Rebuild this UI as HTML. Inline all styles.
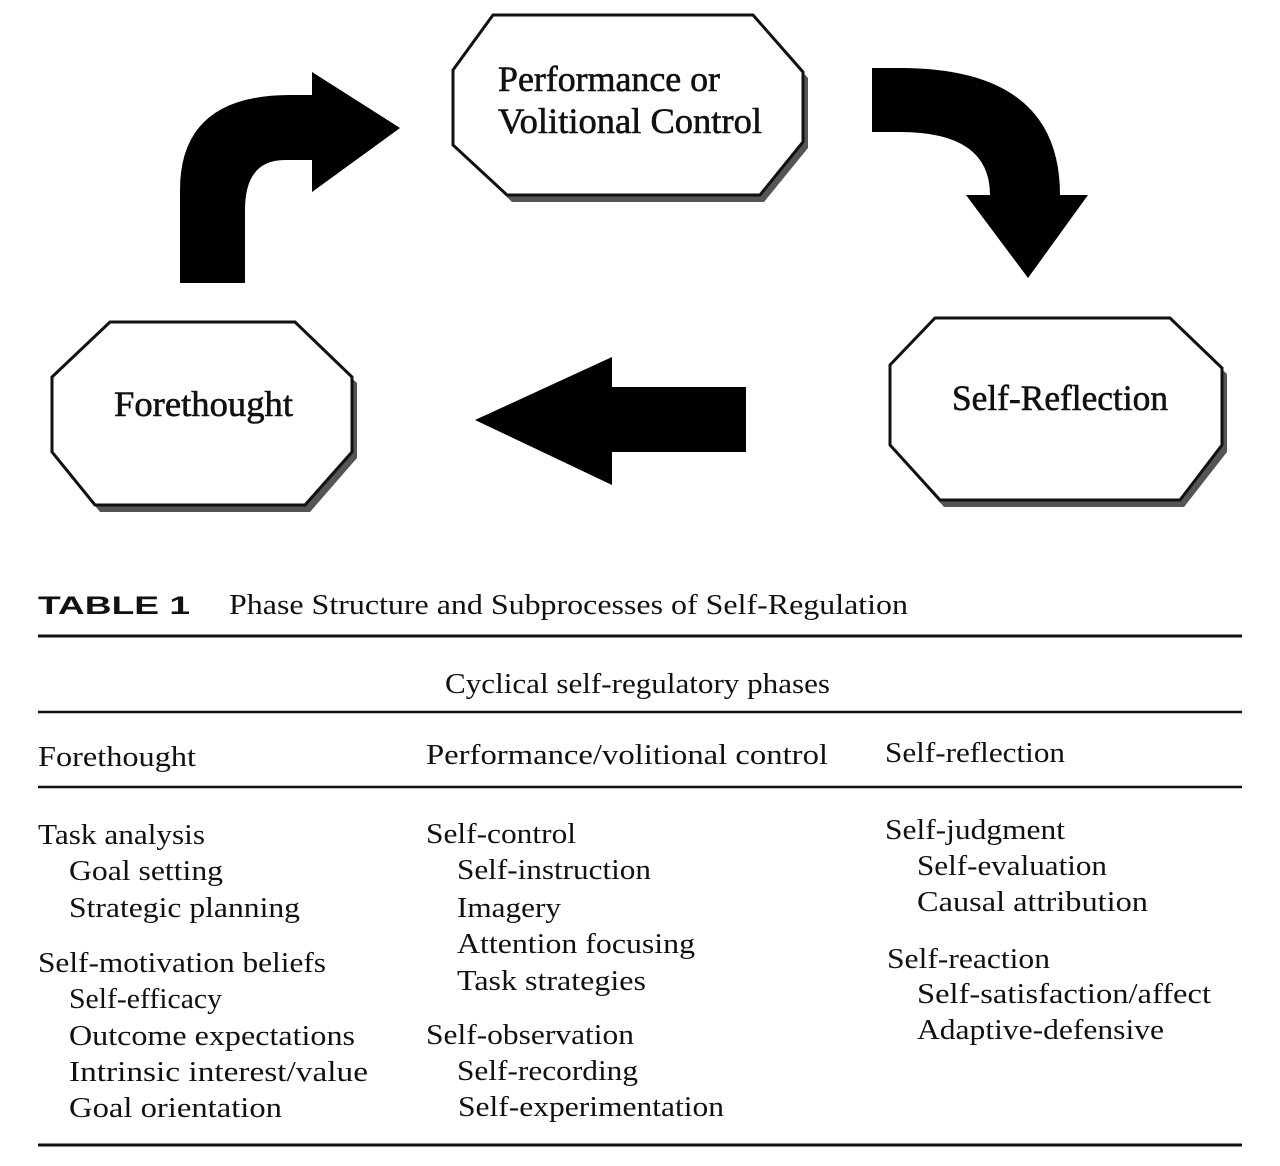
<!DOCTYPE html>
<html><head><meta charset="utf-8"><style>
html,body{margin:0;padding:0;background:#fff;}
svg{display:block;}
text{font-family:"Liberation Serif",serif;fill:#111;}
.t{font-size:29px;}
.d{font-size:36px;stroke:#111;stroke-width:0.6px;}
</style></head><body>
<svg width="1280" height="1166" viewBox="0 0 1280 1166" xmlns="http://www.w3.org/2000/svg">
<g stroke="#111" stroke-width="3" fill="#fff">
 <polygon points="497,22 758,22 808,78 808,148 764,202 512,202 459,150 459,75" fill="#555" stroke="none"/>
 <polygon points="493,15 753,15 803,72 803,142 760,195 507,195 453,145 453,70"/>
 <polygon points="114,328 299,328 357,383 357,458 310,512 100,512 57,458 57,383" fill="#555" stroke="none"/>
 <polygon points="110,322 295,322 352,377 352,452 305,505 95,505 52,452 52,377"/>
 <polygon points="939,324 1174,324 1227,374 1227,452 1184,507 944,507 895,452 895,371" fill="#555" stroke="none"/>
 <polygon points="935,318 1170,318 1222,368 1222,445 1180,500 940,500 890,445 890,365"/>
</g>
<text class="d" x="498" y="91" textLength="222" lengthAdjust="spacingAndGlyphs">Performance or</text>
<text class="d" x="498" y="133" textLength="264" lengthAdjust="spacingAndGlyphs">Volitional Control</text>
<text class="d" x="114" y="416" textLength="179" lengthAdjust="spacingAndGlyphs">Forethought</text>
<text class="d" x="952" y="410" textLength="216" lengthAdjust="spacingAndGlyphs">Self-Reflection</text>
<g fill="#000">
 <path d="M180,283 L180,190 Q180,95 290,95 L312,95 L312,72 L400,128 L312,192 L312,160 L285,160 Q245,160 245,210 L245,283 Z"/>
 <path d="M872,68 L900,68 Q1060,68 1060,195 L1088,195 L1028,278 L966,195 L990,195 Q990,132 900,132 L872,132 Z"/>
 <path d="M746,387 L612,387 L612,357 L475,420 L612,485 L612,452 L746,452 Z"/>
</g>
<text x="38" y="614" textLength="152" lengthAdjust="spacingAndGlyphs" style="font-family:'Liberation Sans',sans-serif;font-size:25px;font-weight:bold;">TABLE  1</text>
<text class="t" x="229" y="614" textLength="679" lengthAdjust="spacingAndGlyphs">Phase Structure and Subprocesses of Self-Regulation</text>
<g stroke="#111" stroke-width="3">
 <line x1="38" y1="636" x2="1242" y2="636"/>
 <line x1="38" y1="712" x2="1242" y2="712" stroke-width="2.5"/>
 <line x1="38" y1="787" x2="1242" y2="787" stroke-width="2.5"/>
 <line x1="38" y1="1145" x2="1242" y2="1145"/>
</g>
<g lengthAdjust="spacingAndGlyphs">
<text class="t" x="445" y="693" textLength="385" lengthAdjust="spacingAndGlyphs">Cyclical self-regulatory phases</text>
<text class="t" x="38" y="766" textLength="158" lengthAdjust="spacingAndGlyphs">Forethought</text>
<text class="t" x="426" y="764" textLength="402" lengthAdjust="spacingAndGlyphs">Performance/volitional control</text>
<text class="t" x="885" y="762" textLength="180" lengthAdjust="spacingAndGlyphs">Self-reflection</text>

<text class="t" x="38" y="844" textLength="167" lengthAdjust="spacingAndGlyphs">Task analysis</text>
<text class="t" x="69" y="880" textLength="154" lengthAdjust="spacingAndGlyphs">Goal setting</text>
<text class="t" x="69" y="917" textLength="231" lengthAdjust="spacingAndGlyphs">Strategic planning</text>
<text class="t" x="38" y="972" textLength="288" lengthAdjust="spacingAndGlyphs">Self-motivation beliefs</text>
<text class="t" x="69" y="1008" textLength="153" lengthAdjust="spacingAndGlyphs">Self-efficacy</text>
<text class="t" x="69" y="1045" textLength="286" lengthAdjust="spacingAndGlyphs">Outcome expectations</text>
<text class="t" x="69" y="1081" textLength="299" lengthAdjust="spacingAndGlyphs">Intrinsic interest/value</text>
<text class="t" x="69" y="1117" textLength="213" lengthAdjust="spacingAndGlyphs">Goal orientation</text>

<text class="t" x="426" y="843" textLength="150" lengthAdjust="spacingAndGlyphs">Self-control</text>
<text class="t" x="457" y="879" textLength="194" lengthAdjust="spacingAndGlyphs">Self-instruction</text>
<text class="t" x="457" y="917" textLength="104" lengthAdjust="spacingAndGlyphs">Imagery</text>
<text class="t" x="457" y="953" textLength="238" lengthAdjust="spacingAndGlyphs">Attention focusing</text>
<text class="t" x="457" y="990" textLength="189" lengthAdjust="spacingAndGlyphs">Task strategies</text>
<text class="t" x="426" y="1044" textLength="208" lengthAdjust="spacingAndGlyphs">Self-observation</text>
<text class="t" x="457" y="1080" textLength="181" lengthAdjust="spacingAndGlyphs">Self-recording</text>
<text class="t" x="458" y="1116" textLength="266" lengthAdjust="spacingAndGlyphs">Self-experimentation</text>

<text class="t" x="885" y="839" textLength="180" lengthAdjust="spacingAndGlyphs">Self-judgment</text>
<text class="t" x="917" y="875" textLength="190" lengthAdjust="spacingAndGlyphs">Self-evaluation</text>
<text class="t" x="917" y="911" textLength="231" lengthAdjust="spacingAndGlyphs">Causal attribution</text>
<text class="t" x="887" y="968" textLength="163" lengthAdjust="spacingAndGlyphs">Self-reaction</text>
<text class="t" x="917" y="1003" textLength="294" lengthAdjust="spacingAndGlyphs">Self-satisfaction/affect</text>
<text class="t" x="917" y="1039" textLength="247" lengthAdjust="spacingAndGlyphs">Adaptive-defensive</text>
</g>
</svg>
</body></html>
